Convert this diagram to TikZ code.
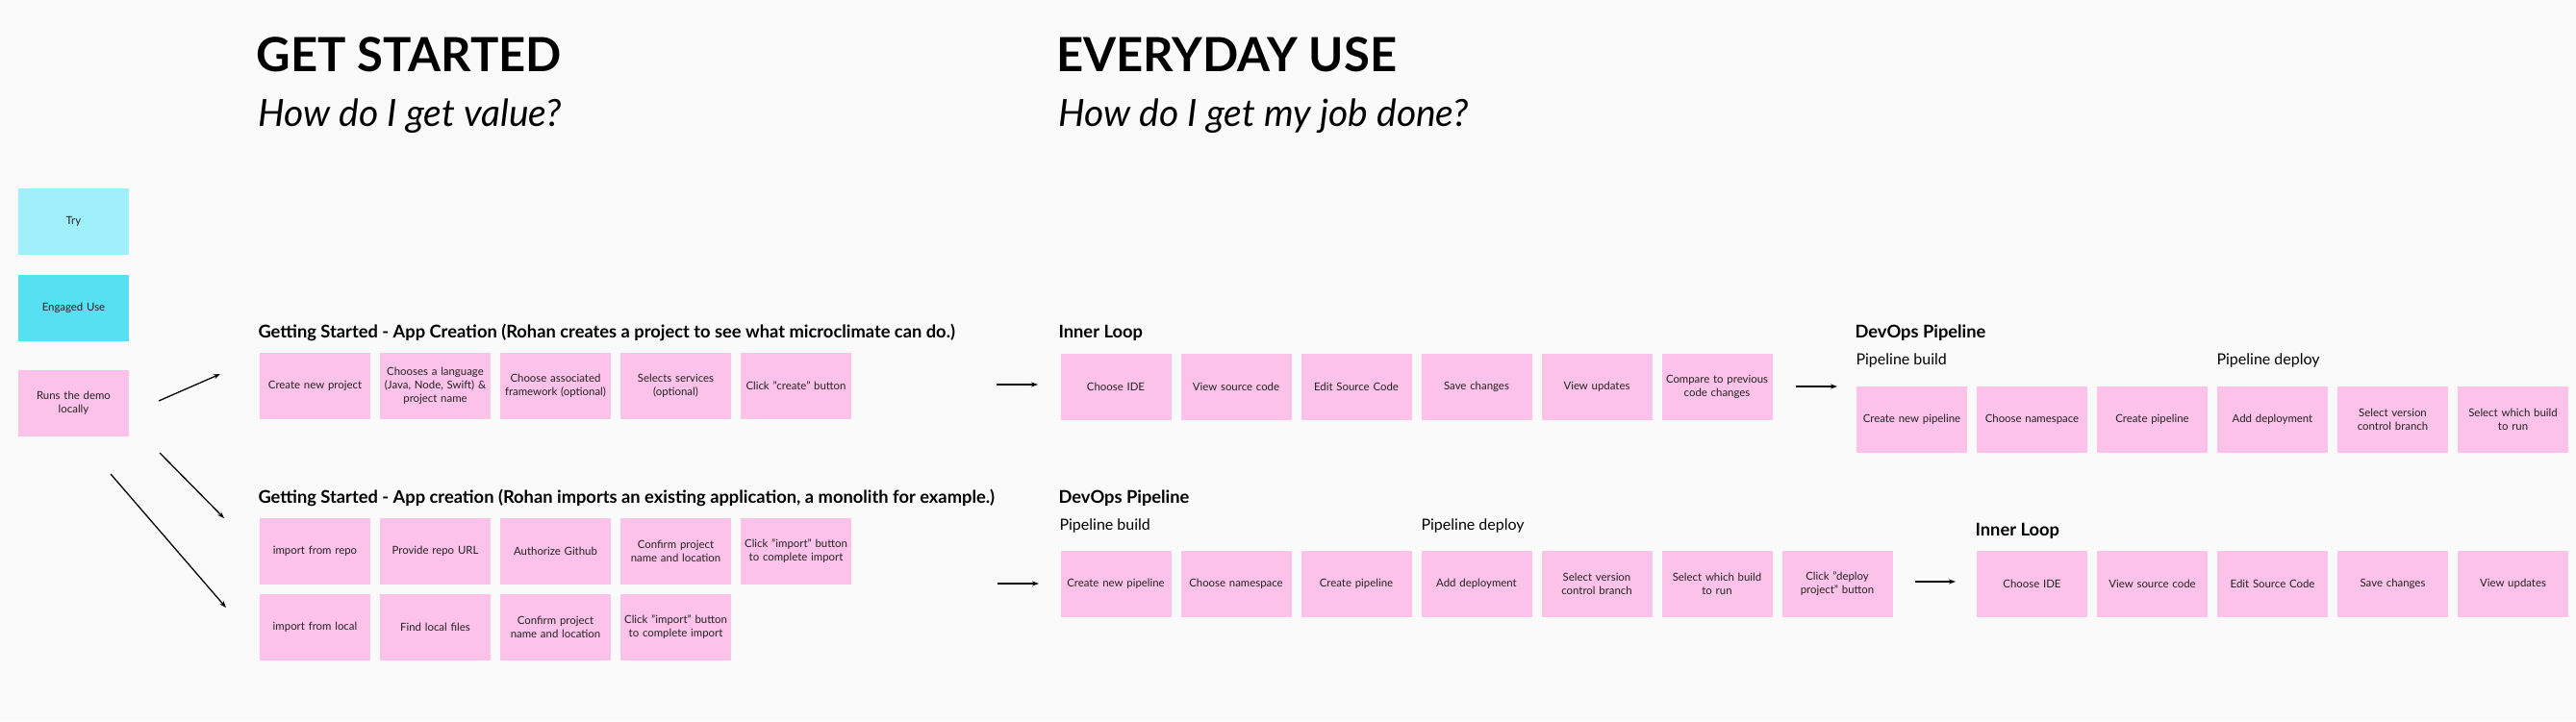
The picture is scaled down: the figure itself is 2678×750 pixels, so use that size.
\documentclass[tikz,border=0pt]{standalone}
\usepackage{fontspec}
\setmainfont{Lato}
\usetikzlibrary{arrows.meta}
\definecolor{bgcol}{HTML}{FAFAFA}
\definecolor{pinknote}{HTML}{FDC2E9}
\definecolor{trynote}{HTML}{A0F0FC}
\definecolor{usenote}{HTML}{56E0F2}
\definecolor{notetext}{HTML}{222222}
\begin{document}
\begin{tikzpicture}[x=1pt,y=-1pt,
  note/.style={fill=pinknote, minimum height=69pt, text width=107pt, inner sep=4pt,
    align=center, text=notetext, font=\fontsize{11.4}{14}\selectfont},
  bigtitle/.style={anchor=west, font=\fontsize{49}{52}\selectfont\bfseries},
  subtitle/.style={anchor=west, font=\fontsize{39}{42}\selectfont\itshape},
  group/.style={anchor=west, font=\fontsize{18.3}{20}\selectfont\bfseries},
  phase/.style={anchor=west, font=\fontsize{16}{18}\selectfont},
  flow/.style={-{Stealth[length=7pt,width=5pt]}, line width=1.3pt}]
\useasboundingbox[fill=bgcol] (0,0) rectangle (2678,750);
% titles
\node[bigtitle] (gs) at (263,57){GET STARTED};
\node[subtitle] (gsq) at (265,121){How do I get value?};
\node[bigtitle] (eu) at (1095,57){EVERYDAY USE};
\node[subtitle] (euq) at (1097,121){How do I get my job done?};
% user levels
\node[note, fill=trynote] (try) at (76.5,230.5){Try};
\node[note, fill=usenote] (use) at (76.5,320.5){Engaged Use};
\node[note] (demo) at (76.5,419.5){Runs the demo\\locally};
% getting started, create
\node[group] (gcreate) at (265,346){Getting Started - App Creation (Rohan creates a project to see what microclimate can do.)};
\node[note] (c1) at (327.5,401.5){Create new project};
\node[note] (c2) at (452.5,401.5){Chooses a language\\(Java, Node, Swift) \&\\project name};
\node[note] (c3) at (577.5,401.5){Choose associated\\framework (optional)};
\node[note] (c4) at (702.5,401.5){Selects services\\(optional)};
\node[note] (c5) at (827.5,401.5){Click "create" button};
% getting started, import
\node[group] (gimport) at (265,518){Getting Started - App creation (Rohan imports an existing application, a monolith for example.)};
\node[note] (r1) at (327.5,573){import from repo};
\node[note] (r2) at (452.5,573){Provide repo URL};
\node[note] (r3) at (577.5,573){Authorize Github};
\node[note] (r4) at (702.5,573){Confirm project\\name and location};
\node[note] (r5) at (827.5,573){Click "import" button\\to complete import};
\node[note] (l1) at (327.5,652){import from local};
\node[note] (l2) at (452.5,652){Find local files};
\node[note] (l3) at (577.5,652){Confirm project\\name and location};
\node[note] (l4) at (702.5,652){Click "import" button\\to complete import};
\coordinate (d1a) at (165,417);
\coordinate (d1b) at (229,389);
\coordinate (d2a) at (166,471);
\coordinate (d2b) at (233,539);
\coordinate (d3a) at (115,493);
\coordinate (d3b) at (235,632);
\draw[flow](d1a) -- (d1b);
\draw[flow](d2a) -- (d2b);
\draw[flow](d3a) -- (d3b);
% everyday use, upper: inner loop then pipeline
\node[group] (inner) at (1097,346){Inner Loop};
\node[note] (i1) at (1160,402){Choose IDE};
\node[note] (i2) at (1285,402){View source code};
\node[note] (i3) at (1410,402){Edit Source Code};
\node[note] (i4) at (1535,402){Save changes};
\node[note] (i5) at (1660,402){View updates};
\node[note] (i6) at (1785,402){Compare to previous\\code changes};
\coordinate (ua) at (1036,400);
\coordinate (ub) at (1079,400);
\draw[flow](ua) -- (ub);
\node[group] (devops) at (1925,346){DevOps Pipeline};
\node[phase] (pbuild) at (1926,375){Pipeline build};
\node[phase] (pdeploy) at (2301,375){Pipeline deploy};
\node[note] (p1) at (1987.5,436){Create new pipeline};
\node[note] (p2) at (2112.5,436){Choose namespace};
\node[note] (p3) at (2237.5,436){Create pipeline};
\node[note] (p4) at (2362.5,436){Add deployment};
\node[note] (p5) at (2487.5,436){Select version\\control branch};
\node[note] (p6) at (2612.5,436){Select which build\\to run};
\coordinate (va) at (1867,402);
\coordinate (vb) at (1910,402);
\draw[flow](va) -- (vb);
% everyday use, lower: pipeline then inner loop
\node[group] (devops2) at (1097,518){DevOps Pipeline};
\node[phase] (pbuild2) at (1098,547){Pipeline build};
\node[phase] (pdeploy2) at (1474,547){Pipeline deploy};
\node[note] (q1) at (1160,607.5){Create new pipeline};
\node[note] (q2) at (1285,607.5){Choose namespace};
\node[note] (q3) at (1410,607.5){Create pipeline};
\node[note] (q4) at (1535,607.5){Add deployment};
\node[note] (q5) at (1660,607.5){Select version\\control branch};
\node[note] (q6) at (1785,607.5){Select which build\\to run};
\node[note] (q7) at (1910,607.5){Click "deploy\\project" button};
\coordinate (wa) at (1037,607);
\coordinate (wb) at (1080,607);
\draw[flow](wa) -- (wb);
\node[group] (inner2) at (2050,552){Inner Loop};
\node[note] (j1) at (2112.5,607.5){Choose IDE};
\node[note] (j2) at (2237.5,607.5){View source code};
\node[note] (j3) at (2362.5,607.5){Edit Source Code};
\node[note] (j4) at (2487.5,607.5){Save changes};
\node[note] (j5) at (2612.5,607.5){View updates};
\coordinate (xa) at (1991,605);
\coordinate (xb) at (2033,605);
\draw[flow](xa) -- (xb);
\end{tikzpicture}
\end{document}
